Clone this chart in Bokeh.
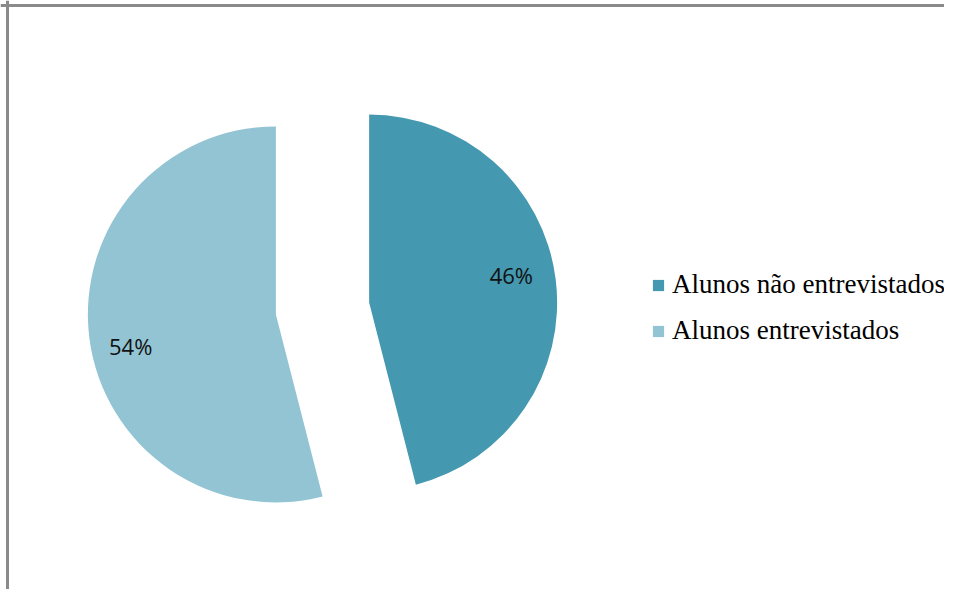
import math
from bokeh.plotting import figure
from bokeh.models import Range1d, ColumnDataSource, Legend, LegendItem, Span
from bokeh.core.properties import value
from bokeh.embed import file_html
from bokeh.resources import INLINE

# ---- data ----
categories = ["Alunos não entrevistados", "Alunos entrevistados"]
values = [46, 54]
labels = ["46%", "54%"]
colors = ["#4498B0", "#93C4D4"]

# ---- layout ----
W, H = 944, 589
cx, cy = 322.0, H - 308.0  # pie centre
R = 188                    # radius px
EXPLODE = 47               # explosion distance px
LABEL_FRAC = [0.77, 0.79]
LABEL_ANGLE_TWEAK = [3.6, 5.0]

total = sum(values)
xs, ys, starts, ends, lx, ly = [], [], [], [], [], []
cum = 0
for i, v in enumerate(values):
    a0 = 90 - 360 * cum / total          # clockwise start
    cum += v
    a1 = 90 - 360 * cum / total          # clockwise end
    mid = math.radians((a0 + a1) / 2)
    ox = cx + EXPLODE * math.cos(mid)
    oy = cy + EXPLODE * math.sin(mid)
    xs.append(ox)
    ys.append(oy)
    starts.append(math.radians(a1))
    ends.append(math.radians(a0))
    la = math.radians((a0 + a1) / 2 + LABEL_ANGLE_TWEAK[i])
    lx.append(ox + LABEL_FRAC[i] * R * math.cos(la))
    ly.append(oy + LABEL_FRAC[i] * R * math.sin(la))

src = ColumnDataSource(dict(x=xs, y=ys, start=starts, end=ends, color=colors,
                            cat=categories, lx=lx, ly=ly, label=labels))

p = figure(width=W, height=H, x_range=Range1d(0, W), y_range=Range1d(0, H),
           min_border=0, toolbar_location=None, output_backend="svg")
p.axis.visible = False
p.grid.visible = False
p.outline_line_color = None
p.background_fill_color = "white"
p.border_fill_color = "white"

p.add_layout(Span(location=H - 5, dimension="width", line_color="#8a8a8a", line_width=3))
p.add_layout(Span(location=7, dimension="height", line_color="#8a8a8a", line_width=3))

r = p.wedge(x="x", y="y", radius=R, radius_units="screen", start_angle="start",
            end_angle="end", fill_color="color", line_color=None, source=src)

p.text(x="lx", y="ly", text="label", source=src, text_align="center",
       text_baseline="middle", text_font=value("Open Sans"),
       text_font_size="22px", text_color="#111111")

items = [LegendItem(label=categories[i], renderers=[r], index=i) for i in range(len(categories))]
legend = Legend(items=items, location=(651, 243), orientation="vertical",
                label_text_font="Liberation Serif", label_text_font_size="27px",
                label_text_color="#000000",
                glyph_width=14, glyph_height=14, label_standoff=7,
                spacing=15, padding=0, margin=0,
                border_line_alpha=0, background_fill_alpha=0)
p.add_layout(legend)

open("out.html", "w").write(file_html(p, INLINE))
